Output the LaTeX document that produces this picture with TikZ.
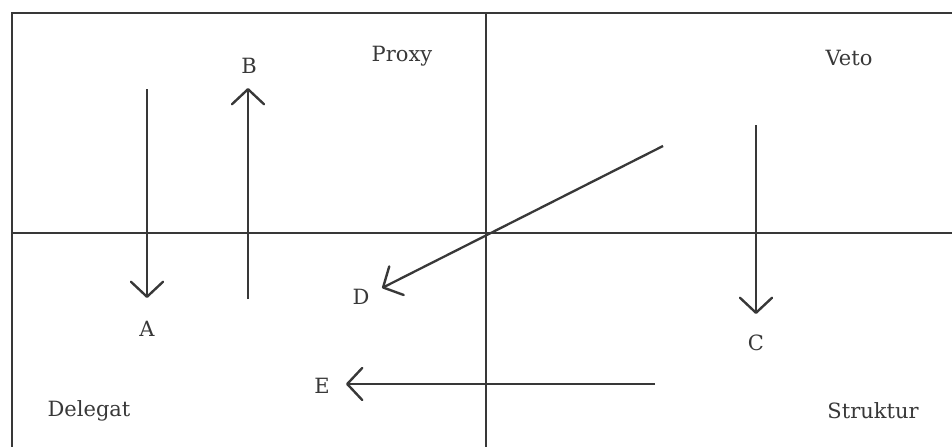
\documentclass[tikz,border=0pt]{standalone}
\usepackage{fontspec}
\setmainfont{DejaVu Serif}
\usetikzlibrary{arrows.meta}

\tikzset{
  lab/.style={anchor=center,inner sep=0pt,font=\fontsize{21}{24}\selectfont},
  barb/.style={-{Straight Barb[length=15pt,width=32pt,line width=2.4pt,round]}}
}

\begin{document}
\begin{tikzpicture}[x=1pt,y=-1pt,line width=2.3pt,draw=black!78,text=black!78]
\path[use as bounding box] (0,0) rectangle (952,447);
\draw (952,13) -- (12,13) -- (12,447);
\draw (486,13) -- (486,447);
\draw (12,233) -- (952,233);
\node[lab] (proxy) at (402,56) {Proxy};
\node[lab] (veto) at (849,58) {Veto};
\node[lab] (delegat) at (89,411) {Delegat};
\node[lab] (struktur) at (873,411) {Struktur};
\node[lab] (A) at (147,329) {A};
\node[lab] (B) at (249,66) {B};
\node[lab] (C) at (756,343) {C};
\node[lab] (D) at (361,297) {D};
\node[lab] (E) at (322,386) {E};
\coordinate (a1) at (147,89);
\coordinate (a2) at (147,298);
\coordinate (b1) at (248,299);
\coordinate (b2) at (248,88);
\coordinate (c1) at (756,125);
\coordinate (c2) at (756,314);
\coordinate (d1) at (663,146);
\coordinate (d2) at (382,288);
\coordinate (e1) at (655,384);
\coordinate (e2) at (346,384);
\draw[barb] (a1) -- (a2);
\draw[barb] (b1) -- (b2);
\draw[barb] (c1) -- (c2);
\draw[barb] (d1) -- (d2);
\draw[barb] (e1) -- (e2);
\end{tikzpicture}
\end{document}
